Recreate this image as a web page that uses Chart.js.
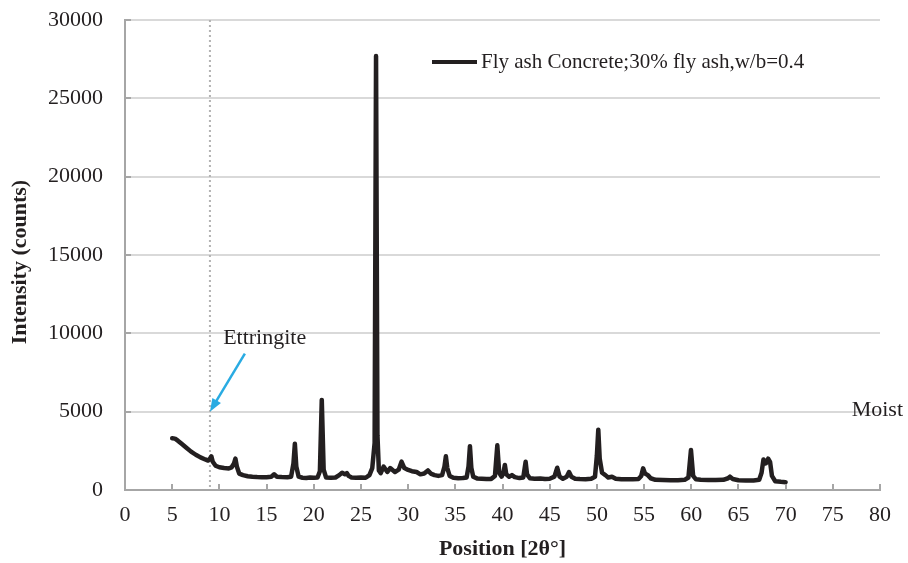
<!DOCTYPE html>
<html>
<head>
<meta charset="utf-8">
<script src="https://cdn.jsdelivr.net/npm/chart.js@4.4.1/dist/chart.umd.min.js"></script>
<style>
  html, body { margin: 0; padding: 0; background: #fff; }
  #wrap { width: 908px; height: 563px; position: relative; }
</style>
</head>
<body>
<div id="wrap"><canvas id="chart"></canvas></div>
<script>
/* ── data ── */
const SERIES_LABEL = 'Fly ash Concrete;30% fly ash,w/b=0.4';
const TWO_THETA = [
  5.0, 5.3, 5.6, 6.0, 6.5, 7.0, 7.5, 8.0, 8.5, 8.8, 9.0, 9.15, 9.3, 9.6, 10.0, 10.5, 11.0, 11.3, 11.55, 11.7,
  11.85, 12.1, 12.5, 13.0, 13.5, 14.0, 14.5, 15.0, 15.5, 15.8, 16.1, 16.6, 17.2, 17.6, 17.85, 18.0, 18.15, 18.4,
  18.8, 19.2, 19.6, 20.0, 20.4, 20.65, 20.85, 21.05, 21.3, 21.8, 22.3, 22.7, 23.0, 23.3, 23.5, 23.7, 24.0, 24.5,
  25.0, 25.5, 25.9, 26.2, 26.45, 26.6, 26.75, 26.9, 27.1, 27.4, 27.8, 28.1, 28.6, 29.0, 29.3, 29.6, 30.0, 30.4,
  30.9, 31.3, 31.7, 32.1, 32.4, 32.8, 33.2, 33.6, 33.85, 34.0, 34.15, 34.4, 34.8, 35.3, 35.8, 36.2, 36.4, 36.55,
  36.7, 36.9, 37.3, 37.8, 38.3, 38.8, 39.2, 39.45, 39.65, 39.9, 40.1, 40.25, 40.4, 40.7, 41.0, 41.3, 41.8, 42.2,
  42.35, 42.45, 42.6, 42.9, 43.4, 44.0, 44.5, 45.0, 45.5, 45.8, 46.05, 46.4, 46.8, 47.05, 47.3, 47.7, 48.2, 48.8,
  49.4, 49.8, 50.0, 50.15, 50.3, 50.55, 50.9, 51.2, 51.6, 52.0, 52.6, 53.2, 53.8, 54.4, 54.7, 54.9, 55.1, 55.4,
  55.7, 56.2, 57.0, 57.8, 58.6, 59.3, 59.7, 59.97, 60.2, 60.5, 61.0, 61.8, 62.6, 63.4, 63.9, 64.1, 64.4, 65.0,
  65.8, 66.6, 67.2, 67.45, 67.65, 67.9, 68.15, 68.35, 68.55, 68.9, 69.5, 70.0
];
const COUNTS = [
  3300, 3280, 3150, 2950, 2700, 2450, 2250, 2080, 1950, 1880, 2000, 2150, 1800, 1550, 1450, 1400, 1380, 1450, 1700, 2000,
  1500, 1050, 950, 880, 850, 830, 820, 820, 850, 1000, 850, 830, 820, 850, 1700, 2950, 1500, 850,
  780, 770, 800, 780, 800, 1200, 5750, 1300, 800, 780, 800, 950, 1100, 1000, 1080, 900, 800, 780,
  800, 780, 950, 1400, 3000, 27700, 3500, 1250, 1080, 1490, 1150, 1400, 1150, 1300, 1810, 1400, 1280, 1200,
  1150, 1000, 1050, 1250, 1050, 950, 900, 950, 1500, 2150, 1400, 900, 780, 750, 760, 800, 1500, 2800,
  1400, 850, 740, 720, 700, 710, 900, 2850, 1100, 850, 1100, 1600, 1000, 850, 950, 820, 760, 800,
  1400, 1800, 1000, 750, 720, 730, 700, 720, 850, 1420, 850, 720, 850, 1150, 850, 720, 700, 690,
  720, 850, 2200, 3850, 2000, 1100, 950, 800, 850, 720, 680, 680, 680, 700, 900, 1380, 1050, 950,
  750, 650, 640, 630, 630, 650, 800, 2550, 900, 680, 650, 640, 640, 650, 750, 850, 700, 620,
  600, 610, 650, 1100, 1950, 1700, 2000, 1800, 900, 560, 520, 500
];
const X_TICKS = [0, 5, 10, 15, 20, 25, 30, 35, 40, 45, 50, 55, 60, 65, 70, 75, 80];
const Y_TICKS = [0, 5000, 10000, 15000, 20000, 25000, 30000];
const X_TITLE = 'Position [2θ°]';
const Y_TITLE = 'Intensity (counts)';
const ETTRINGITE_POS = 9.0;
const ETTRINGITE_LABEL = 'Ettringite';
const SIDE_LABEL = 'Moist';

const SERIF = '"Liberation Serif", "Times New Roman", serif';

/* ── overlay: inner ticks, marker line, arrow, labels, legend ── */
const overlay = {
  id: 'overlay',
  beforeDatasetsDraw(chart) {
    const { ctx, chartArea, scales: { x } } = chart;
    const px = x.getPixelForValue(ETTRINGITE_POS);
    ctx.save();
    ctx.strokeStyle = '#b3b3b3';
    ctx.lineWidth = 2;
    ctx.setLineDash([2, 3]);
    ctx.beginPath();
    ctx.moveTo(px, chartArea.top);
    ctx.lineTo(px, chartArea.bottom);
    ctx.stroke();
    ctx.restore();
  },
  afterDraw(chart) {
    const { ctx, chartArea, scales: { x, y } } = chart;
    ctx.save();
    // inner tick marks
    ctx.strokeStyle = '#a6a6a6';
    ctx.lineWidth = 2;
    ctx.beginPath();
    for (const v of X_TICKS) {
      const px = Math.round(x.getPixelForValue(v));
      ctx.moveTo(px, chartArea.bottom);
      ctx.lineTo(px, chartArea.bottom - 6);
    }
    for (const v of Y_TICKS) {
      const py = Math.round(y.getPixelForValue(v));
      ctx.moveTo(chartArea.left, py);
      ctx.lineTo(chartArea.left + 6, py);
    }
    ctx.stroke();

    // ettringite arrow
    const tipX = x.getPixelForValue(ETTRINGITE_POS), tipY = y.getPixelForValue(5000);
    const tailX = x.getPixelForValue(12.7), tailY = y.getPixelForValue(8700);
    const ang = Math.atan2(tipY - tailY, tipX - tailX);
    ctx.strokeStyle = '#29abe2';
    ctx.fillStyle = '#29abe2';
    ctx.lineWidth = 2.5;
    ctx.beginPath();
    ctx.moveTo(tailX, tailY);
    ctx.lineTo(tipX - 9 * Math.cos(ang), tipY - 9 * Math.sin(ang));
    ctx.stroke();
    ctx.beginPath();
    ctx.moveTo(tipX, tipY);
    ctx.lineTo(tipX - 13 * Math.cos(ang) + 5 * Math.sin(ang), tipY - 13 * Math.sin(ang) - 5 * Math.cos(ang));
    ctx.lineTo(tipX - 13 * Math.cos(ang) - 5 * Math.sin(ang), tipY - 13 * Math.sin(ang) + 5 * Math.cos(ang));
    ctx.closePath();
    ctx.fill();

    // text labels
    ctx.fillStyle = '#231f20';
    ctx.font = '22px ' + SERIF;
    ctx.textBaseline = 'middle';
    ctx.textAlign = 'center';
    ctx.fillText(ETTRINGITE_LABEL, x.getPixelForValue(14.8), y.getPixelForValue(9700));
    ctx.textAlign = 'left';
    ctx.fillText(SIDE_LABEL, x.getPixelForValue(77.0), y.getPixelForValue(5100));

    // y title (sits a little below the axis centre in the original)
    ctx.save();
    ctx.translate(20, (chartArea.top + chartArea.bottom) / 2 + 7);
    ctx.rotate(-Math.PI / 2);
    ctx.textAlign = 'center';
    ctx.font = 'bold 22px ' + SERIF;
    ctx.fillText(Y_TITLE, 0, 0);
    ctx.restore();

    // legend
    const ds = chart.data.datasets[0];
    const ly = 62;
    ctx.strokeStyle = ds.borderColor;
    ctx.lineWidth = 4;
    ctx.beginPath();
    ctx.moveTo(432, ly);
    ctx.lineTo(477, ly);
    ctx.stroke();
    ctx.font = '21px ' + SERIF;
    ctx.fillText(ds.label, 481, ly);
    ctx.restore();
  },
};

new Chart(document.getElementById('chart'), {
  type: 'scatter',
  data: {
    datasets: [{
      label: SERIES_LABEL,
      data: TWO_THETA.map((t, i) => ({ x: t, y: COUNTS[i] })),
      showLine: true,
      borderColor: '#231f20',
      borderWidth: 4.5,
      borderJoinStyle: 'round',
      borderCapStyle: 'round',
      pointRadius: 0,
      tension: 0,
    }],
  },
  options: {
    animation: false,
    responsive: true,
    maintainAspectRatio: false,
    layout: { padding: { top: 20, right: 28, left: 0, bottom: 0 } },
    plugins: { legend: { display: false }, tooltip: { enabled: false } },
    scales: {
      x: {
        type: 'linear', min: 0, max: 80,
        afterFit: s => { s.height = 73; s.paddingLeft = 0; s.paddingRight = 0; },
        afterBuildTicks: s => { s.ticks = X_TICKS.map(v => ({ value: v })); },
        grid: { display: false, drawTicks: false },
        border: { display: true, color: '#a6a6a6', width: 2 },
        ticks: { color: '#231f20', font: { family: SERIF, size: 22 }, padding: 12, maxRotation: 0, autoSkip: false },
        title: { display: true, text: X_TITLE, color: '#231f20', font: { family: SERIF, size: 22, weight: 'bold' }, padding: { bottom: 0 } },
      },
      y: {
        type: 'linear', min: 0, max: 30000,
        afterFit: s => { s.width = 125; s.paddingTop = 0; s.paddingBottom = 0; },
        afterBuildTicks: s => { s.ticks = Y_TICKS.map(v => ({ value: v })); },
        grid: { color: '#d9d9d9', lineWidth: 2, drawTicks: false },
        border: { display: true, color: '#a6a6a6', width: 2 },
        ticks: { color: '#231f20', font: { family: SERIF, size: 22 }, padding: 22, callback: v => String(v) },
        title: { display: false },
      },
    },
  },
  plugins: [overlay],
});
</script>
</body>
</html>
